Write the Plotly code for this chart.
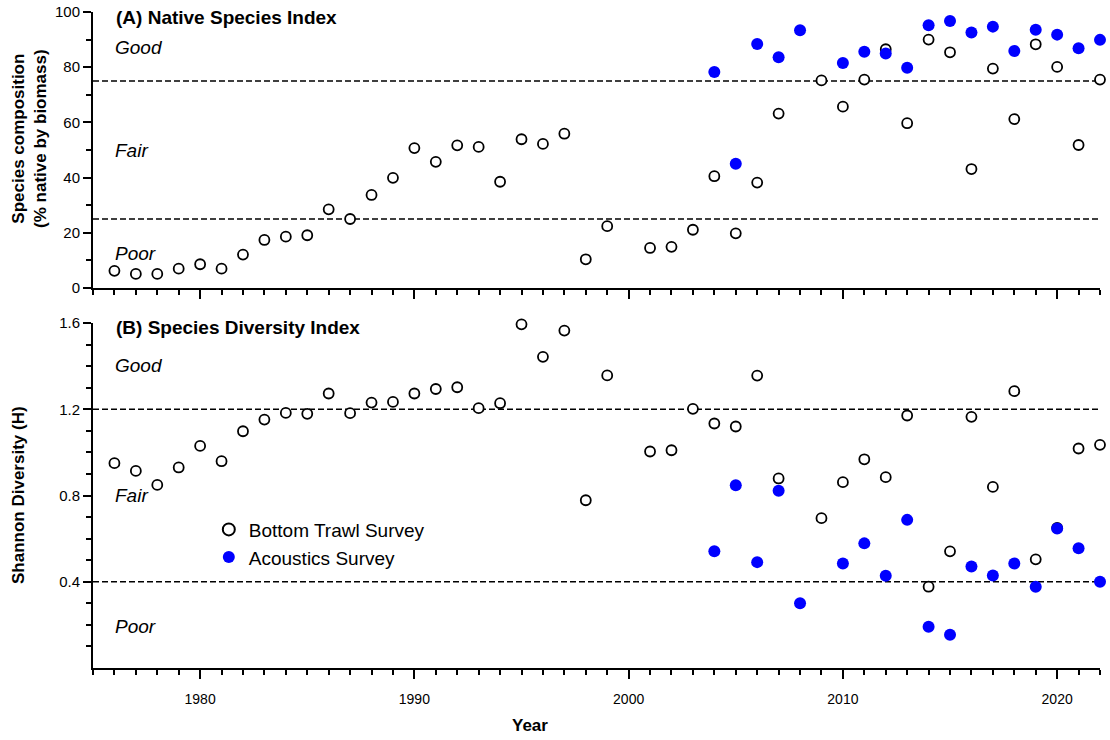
import plotly.graph_objects as go

# Survey years
trawl_years = [1976, 1977, 1978, 1979, 1980, 1981, 1982, 1983, 1984, 1985, 1986, 1987,
               1988, 1989, 1990, 1991, 1992, 1993, 1994, 1995, 1996, 1997, 1998, 1999,
               2001, 2002, 2003, 2004, 2005, 2006, 2007, 2009, 2010, 2011, 2012, 2013,
               2014, 2015, 2016, 2017, 2018, 2019, 2020, 2021, 2022]
acoustic_years = [2004, 2005, 2006, 2007, 2008, 2010, 2011, 2012, 2013, 2014, 2015,
                  2016, 2017, 2018, 2019, 2020, 2021, 2022]

# (A) Native species index, % native by biomass
trawl_native = [6.2, 5.1, 5.1, 7.0, 8.6, 7.0, 12.1, 17.4, 18.6, 19.1, 28.5, 25.0,
                33.7, 39.9, 50.7, 45.7, 51.7, 51.1, 38.5, 53.9, 52.2, 55.9, 10.4, 22.4,
                14.5, 14.9, 21.1, 40.5, 19.8, 38.2, 63.2, 75.2, 65.7, 75.5, 86.5, 59.7,
                90.0, 85.4, 43.1, 79.5, 61.2, 88.3, 80.1, 51.8, 75.5]
acoustic_native = [78.3, 45.0, 88.4, 83.6, 93.4, 81.5, 85.6, 85.0, 79.8, 95.2, 96.7,
                   92.6, 94.7, 85.9, 93.6, 91.8, 86.9, 89.9]

# (B) Shannon diversity index (H)
trawl_shannon = [0.950, 0.914, 0.849, 0.930, 1.030, 0.959, 1.098, 1.152, 1.183, 1.179,
                 1.273, 1.182, 1.231, 1.234, 1.273, 1.294, 1.302, 1.205, 1.228, 1.594,
                 1.443, 1.565, 0.778, 1.357, 1.004, 1.010, 1.202, 1.134, 1.120, 1.356,
                 0.879, 0.695, 0.862, 0.968, 0.885, 1.171, 0.377, 0.541, 1.165, 0.840,
                 1.284, 0.504, 0.650, 1.018, 1.035]
acoustic_shannon = [0.541, 0.848, 0.491, 0.822, 0.300, 0.485, 0.578, 0.428, 0.687,
                    0.191, 0.154, 0.471, 0.429, 0.485, 0.377, 0.647, 0.555, 0.400]

# Condition thresholds
native_limits = [25, 75]
shannon_limits = [0.4, 1.2]

FONT = "Liberation Sans, Arial, sans-serif"
BLUE = "#0000ff"

fig = go.Figure()

trawl_marker = dict(symbol="circle", size=10, color="white",
                    line=dict(color="black", width=1.8))
acoustic_marker = dict(symbol="circle", size=12, color=BLUE, line=dict(width=0))

fig.add_trace(go.Scatter(x=trawl_years, y=trawl_native, mode="markers",
                         marker=trawl_marker, name="Bottom Trawl Survey",
                         showlegend=False, cliponaxis=False, xaxis="x", yaxis="y"))
fig.add_trace(go.Scatter(x=acoustic_years, y=acoustic_native, mode="markers",
                         marker=acoustic_marker, name="Acoustics Survey",
                         showlegend=False, cliponaxis=False, xaxis="x", yaxis="y"))
fig.add_trace(go.Scatter(x=trawl_years, y=trawl_shannon, mode="markers",
                         marker=trawl_marker, name="Bottom Trawl Survey",
                         cliponaxis=False, xaxis="x2", yaxis="y2"))
fig.add_trace(go.Scatter(x=acoustic_years, y=acoustic_shannon, mode="markers",
                         marker=acoustic_marker, name="Acoustics Survey",
                         cliponaxis=False, xaxis="x2", yaxis="y2"))

# Dashed threshold lines
dash_line = dict(color="black", width=1.3, dash="6px,3px")
for v in native_limits:
    fig.add_shape(type="line", xref="x", yref="y", x0=1975, x1=2022, y0=v, y1=v,
                  line=dash_line, layer="below")
for v in shannon_limits:
    fig.add_shape(type="line", xref="x2", yref="y2", x0=1975, x1=2022, y0=v, y1=v,
                  line=dash_line, layer="below")

minor_x = dict(ticks="outside", ticklen=5, tickwidth=1.5, tickcolor="black",
               dtick=1, tick0=1975, showgrid=False)
xaxis_style = dict(range=[1975, 2022], showline=True, linecolor="black", linewidth=2,
                   ticks="outside", ticklen=9, tickwidth=2, tickcolor="black",
                   tick0=1980, dtick=10, showgrid=False, zeroline=False,
                   automargin=False, minor=minor_x, domain=[0, 1])
yaxis_style = dict(showline=True, linecolor="black", linewidth=2, ticks="outside",
                   ticklen=8, tickwidth=2, tickcolor="black", showgrid=False,
                   zeroline=False, automargin=False,
                   tickfont=dict(family=FONT, size=15, color="black"))

TOP_DOMAIN = [0.5793, 1.0]
BOTTOM_DOMAIN = [0.0, 0.5259]

fig.update_layout(
    xaxis=dict(**xaxis_style, anchor="y", showticklabels=False),
    yaxis=dict(**yaxis_style, anchor="x", domain=TOP_DOMAIN, range=[0, 100],
               tickvals=[0, 20, 40, 60, 80, 100],
               minor=dict(ticks="outside", ticklen=5, tickwidth=1.5,
                          tickcolor="black", dtick=10, showgrid=False)),
    xaxis2=dict(**xaxis_style, anchor="y2", matches="x",
                tickfont=dict(family=FONT, size=14, color="black"),
                ticklabelstandoff=8),
    yaxis2=dict(**yaxis_style, anchor="x2", domain=BOTTOM_DOMAIN, range=[0, 1.6],
                tickvals=[0.4, 0.8, 1.2, 1.6], ticktext=["0.4", "0.8", "1.2", "1.6"],
                minor=dict(ticks="outside", ticklen=5, tickwidth=1.5,
                           tickcolor="black",
                           tickvals=[0.1, 0.2, 0.3, 0.5, 0.6, 0.7,
                                     0.9, 1.0, 1.1, 1.3, 1.4, 1.5],
                           showgrid=False)),
)

ann = []
bold = dict(family=FONT, size=19, color="black")
ital = dict(family=FONT, size=19, color="black")
ann.append(dict(text="<b>(A) Native Species Index</b>", x=0.0209, y=0.9909, font=bold))
ann.append(dict(text="<i>Good</i>", x=0.0195, y=0.9466, font=ital))
ann.append(dict(text="<i>Fair</i>", x=0.0195, y=0.7896, font=ital))
ann.append(dict(text="<i>Poor</i>", x=0.0195, y=0.6326, font=ital))
ann.append(dict(text="<b>(B) Species Diversity Index</b>", x=0.0209, y=0.5198, font=bold))
ann.append(dict(text="<i>Good</i>", x=0.0195, y=0.4604, font=ital))
ann.append(dict(text="<i>Fair</i>", x=0.0195, y=0.2622, font=ital))
ann.append(dict(text="<i>Poor</i>", x=0.0195, y=0.0640, font=ital))
for a in ann:
    a.update(xref="paper", yref="paper", xanchor="left", yanchor="middle",
             showarrow=False)

title_font = dict(family=FONT, size=17, color="black")
ann.append(dict(text="<b>Species composition</b><br><b>(% native by biomass)</b>",
                x=-0.0626, y=0.808, textangle=-90, font=title_font))
ann.append(dict(text="<b>Shannon Diversity (H)</b>", x=-0.0745, y=0.2637,
                textangle=-90, font=title_font))
ann.append(dict(text="<b>Year</b>", x=0.434, y=-0.088, font=title_font))
for a in ann[-3:]:
    a.update(xref="paper", yref="paper", xanchor="center", yanchor="middle",
             showarrow=False)

fig.update_layout(
    width=1110, height=740,
    margin=dict(l=93, r=10, t=12, b=72, autoexpand=False),
    paper_bgcolor="white", plot_bgcolor="white",
    font=dict(family=FONT, color="black"),
    annotations=ann,
    legend=dict(x=0.115, y=0.240, xanchor="left", yanchor="top",
                bgcolor="rgba(0,0,0,0)", font=dict(family=FONT, size=19, color="black"),
                tracegroupgap=0, itemsizing="constant"),
)

fig.write_html("out.html")
